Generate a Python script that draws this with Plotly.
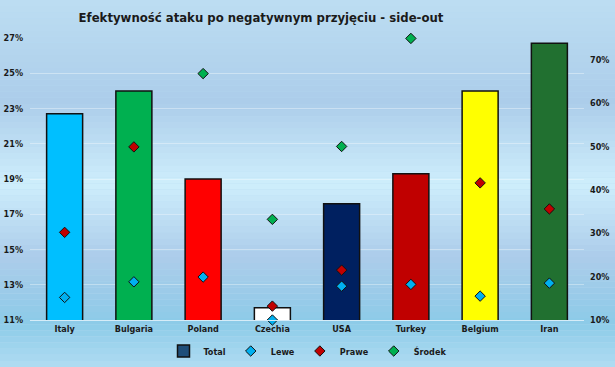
import plotly.graph_objects as go

categories = ["Italy", "Bulgaria", "Poland", "Czechia", "USA", "Turkey", "Belgium", "Iran"]
total = [0.227, 0.240, 0.190, 0.117, 0.176, 0.193, 0.240, 0.267]
lewe = [0.152, 0.188, 0.199, 0.100, 0.178, 0.182, 0.155, 0.185]
prawe = [0.302, 0.499, None, 0.132, 0.215, None, 0.416, 0.356]
srodek = [None, None, 0.668, 0.332, 0.500, 0.749, None, None]
bar_colors = ["#00BFFF", "#00B050", "#FF0000", "#FFFFFF", "#002060", "#C00000", "#FFFF00", "#217030"]

FONT = "DejaVu Sans Condensed, Liberation Sans Narrow, Liberation Sans, Arial, sans-serif"
TXT = "#1a1a1a"

fig = go.Figure()
fig.add_trace(go.Bar(
    x=categories, y=total, name="Total", showlegend=False,
    marker=dict(color=bar_colors, line=dict(color="#111111", width=1.5)),
    width=0.52, yaxis="y",
))
fig.add_trace(go.Bar(
    x=[categories[0]], y=[None], name="Total",
    marker=dict(color="#1F4E79", line=dict(color="#111111", width=1.5)),
))
for name, vals, col in [("Lewe", lewe, "#00B0F0"), ("Prawe", prawe, "#C00000"), ("Środek", srodek, "#00B050")]:
    fig.add_trace(go.Scatter(
        x=categories, y=vals, name=name, mode="markers", yaxis="y2",
        cliponaxis=False,
        marker=dict(symbol="diamond", size=8, color=col, line=dict(color="#111111", width=1)),
    ))

# background gradient bands (decorative)
stops = [(0.0, (188, 221, 242)), (0.28, (172, 205, 234)), (0.50, (206, 238, 252)),
         (0.70, (172, 204, 234)), (0.88, (140, 203, 232)), (1.0, (176, 220, 242))]
def col_at(t):
    for (t0, c0), (t1, c1) in zip(stops, stops[1:]):
        if t0 <= t <= t1:
            f = (t - t0) / (t1 - t0)
            return "rgb(%d,%d,%d)" % tuple(round(a + (b - a) * f) for a, b in zip(c0, c1))
    return "rgb(%d,%d,%d)" % stops[-1][1]
N = 60
H = 367.0
shapes = []
for i in range(N):
    t0 = i / N
    t1 = (i + 1) / N
    y_top = (320 - t0 * H) / (320 - 38)
    y_bot = (320 - t1 * H) / (320 - 38)
    shapes.append(dict(type="rect", xref="paper", yref="paper", x0=-0.1, x1=1.1,
                       y0=y_bot, y1=y_top,
                       fillcolor=col_at((t0 + t1) / 2), line=dict(width=0), layer="below"))

fig.update_layout(
    width=615, height=367,
    margin=dict(l=30, r=31, t=38, b=47),
    paper_bgcolor="#B8DAF1", plot_bgcolor="rgba(0,0,0,0)",
    shapes=shapes,
    barmode="overlay",
    title=dict(text="<b>Efektywność ataku po negatywnym przyjęciu - side-out</b>",
               x=261 / 615, xref="container", xanchor="center", y=1 - 17 / 367, yanchor="middle",
               font=dict(family=FONT, size=13, color=TXT)),
    font=dict(family=FONT, size=9, color=TXT),
    xaxis=dict(showgrid=False, showline=True, linecolor="#D6ECF8", linewidth=1,
               automargin=False, ticks="",
               tickfont=dict(family=FONT, size=9, color=TXT, weight="bold")),
    yaxis=dict(range=[0.11, 0.27], dtick=0.02, tick0=0.11, tickformat=".0%",
               gridcolor="rgba(255,255,255,0.35)", zeroline=False, automargin=False,
               ticklabelstandoff=6,
               tickfont=dict(family=FONT, size=9, color=TXT, weight="bold")),
    yaxis2=dict(range=[0.10, 0.75], dtick=0.1, tick0=0.1, tickformat=".0%",
                overlaying="y", side="right", showgrid=False, zeroline=False, automargin=False,
                ticklabelstandoff=5,
                tickfont=dict(family=FONT, size=9, color=TXT, weight="bold")),
    legend=dict(orientation="h", x=0.5, xanchor="center", xref="container",
                y=16 / 367, yanchor="middle", yref="container",
                font=dict(family=FONT, size=9, color=TXT, weight="bold"),
                bgcolor="rgba(0,0,0,0)", itemwidth=30, traceorder="normal"),
)

fig.write_html("out.html")
